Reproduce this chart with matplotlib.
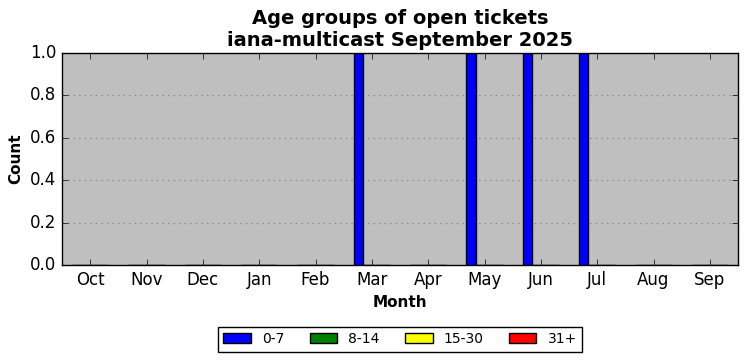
import matplotlib
matplotlib.use("Agg")
import matplotlib.pyplot as plt
import numpy as np

plt.style.use('classic')

months = ["Oct", "Nov", "Dec", "Jan", "Feb", "Mar", "Apr", "May", "Jun", "Jul", "Aug", "Sep"]
age_0_7 = [0, 0, 0, 0, 0, 1, 0, 1, 1, 1, 0, 0]
age_8_14 = [0, 0, 0, 0, 0, 0, 0, 0, 0, 0, 0, 0]
age_15_30 = [0, 0, 0, 0, 0, 0, 0, 0, 0, 0, 0, 0]
age_31p = [0, 0, 0, 0, 0, 0, 0, 0, 0, 0, 0, 0]

series = [("0-7", age_0_7, "blue"), ("8-14", age_8_14, "green"),
          ("15-30", age_15_30, "yellow"), ("31+", age_31p, "red")]

fig = plt.figure(figsize=(7.47, 3.61), dpi=100, facecolor='white')
ax = fig.add_axes([0.083, 0.266, 0.905, 0.587])
ax.set_facecolor('#bfbfbf')

x = np.arange(len(months))
w = 0.16
for i, (lab, vals, col) in enumerate(series):
    ax.bar(x + (i - 1.5) * w, vals, width=w, color=col, edgecolor='black',
           linewidth=1, label=lab, align='center')

ax.set_xlim(-0.5, len(months) - 0.5)
ax.set_ylim(0, 1)
ax.set_xticks(x)
ax.set_xticklabels(months)
ax.set_yticks(np.arange(0, 1.01, 0.2))
ax.yaxis.grid(True, linestyle=':', color='#888888', linewidth=0.8)
ax.set_axisbelow(True)
ax.tick_params(labelsize=12)

ax.set_title("Age groups of open tickets\niana-multicast September 2025",
             fontsize=14, fontweight='bold')
ax.set_xlabel("Month", fontsize=11, fontweight='bold')
ax.set_ylabel("Count", fontsize=11, fontweight='bold')

ax.legend(loc='center', bbox_to_anchor=(0.5, -0.35),
          ncol=4, fontsize=10, frameon=True, fancybox=False,
          handlelength=2.0, columnspacing=1.8)

fig.savefig("out.png", dpi=100, facecolor='white')
